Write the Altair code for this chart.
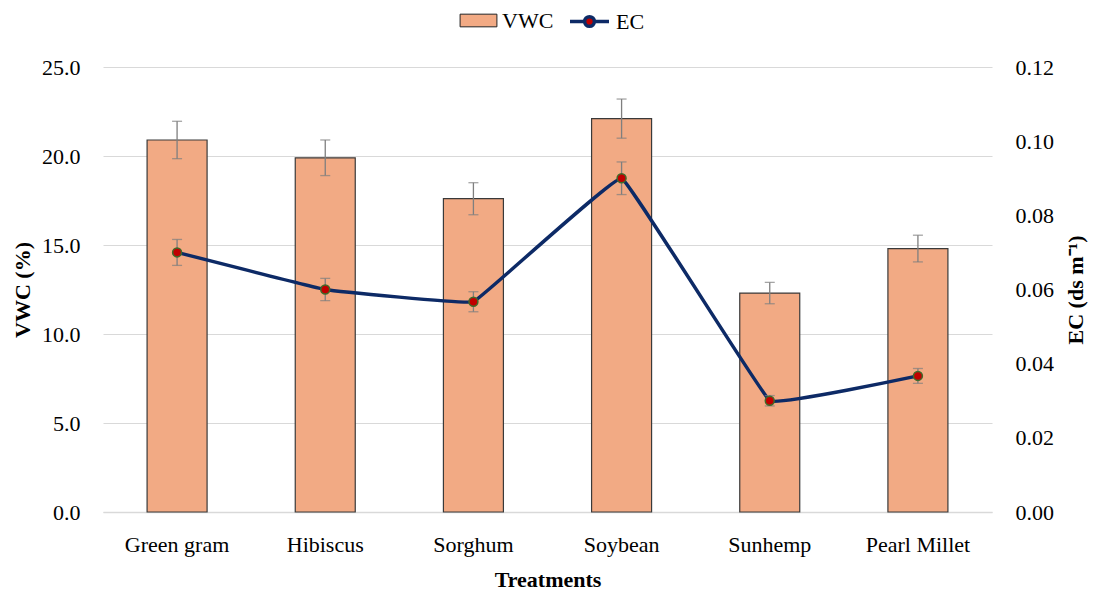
import altair as alt
import pandas as pd

treatments = ["Green gram", "Hibiscus", "Sorghum", "Soybean", "Sunhemp", "Pearl Millet"]
vwc = [20.9, 19.9, 17.6, 22.1, 12.3, 14.8]
vwc_err = [1.05, 1.0, 0.9, 1.1, 0.6, 0.75]
ec = [0.070, 0.060, 0.0567, 0.090, 0.030, 0.0367]
ec_err = [0.0035, 0.003, 0.0027, 0.0044, 0.0014, 0.002]

df = pd.DataFrame({
    "Treatment": treatments,
    "VWC": vwc,
    "VWC_lo": [v - e for v, e in zip(vwc, vwc_err)],
    "VWC_hi": [v + e for v, e in zip(vwc, vwc_err)],
    "EC": ec,
    "EC_lo": [v - e for v, e in zip(ec, ec_err)],
    "EC_hi": [v + e for v, e in zip(ec, ec_err)],
    "s1": ["VWC"] * 6,
    "s2": ["EC"] * 6,
})

FONT = "Liberation Serif, Times New Roman, serif"
FS = 22
H = 445

x = alt.X("Treatment:N", sort=treatments,
          scale=alt.Scale(paddingInner=0, paddingOuter=0),
          axis=alt.Axis(title="Treatments", labelAngle=0, labelFontSize=FS,
                        titleFontSize=FS, titleFontWeight="bold", labelPadding=22,
                        titlePadding=14, ticks=False, domain=True, domainColor="#D9D9D9",
                        domainWidth=1.5, labelColor="#000", titleColor="#000"))
xs = alt.X("Treatment:N", sort=treatments)

left_axis = alt.Axis(title="VWC (%)", values=[0, 5, 10, 15, 20, 25], format=".1f",
                     labelFontSize=FS, titleFontSize=FS, titleFontWeight="bold",
                     grid=True, gridColor="#D9D9D9", gridWidth=1.2, ticks=False,
                     domain=False, labelPadding=23,
                     titleAngle=270, titleX=-81, titleY=H / 2, titleAlign="center",
                     titleBaseline="middle",
                     labelColor="#000", titleColor="#000")
left_scale = alt.Scale(domain=[0, 25], nice=False)

fill_scale = alt.Scale(domain=["VWC"], range=["#F2AA84"])
bars = alt.Chart(df).mark_bar(size=60, stroke="#3A3A3A", strokeWidth=1.2).encode(
    x=x, y=alt.Y("VWC:Q", scale=left_scale, axis=left_axis),
    fill=alt.Fill("s1:N", scale=fill_scale,
                  legend=alt.Legend(title=None, orient="none", legendX=363, legendY=-59,
                                    symbolType="M-1.6,-0.55H1.6V0.55H-1.6Z", symbolSize=530,
                                    symbolStrokeColor="#222", symbolStrokeWidth=1,
                                    labelFontSize=FS, labelFont=FONT, labelColor="#000",
                                    labelOffset=11)),
)
bar_err = alt.Chart(df).mark_rule(color="#7F7F7F", strokeWidth=1.3).encode(
    x=xs, y=alt.Y("VWC_lo:Q", scale=left_scale, axis=left_axis), y2="VWC_hi:Q")
bar_cap_hi = alt.Chart(df).mark_tick(color="#7F7F7F", thickness=1.3, size=10, orient="horizontal").encode(
    x=xs, y=alt.Y("VWC_hi:Q", scale=left_scale, axis=left_axis))
bar_cap_lo = alt.Chart(df).mark_tick(color="#7F7F7F", thickness=1.3, size=10, orient="horizontal").encode(
    x=xs, y=alt.Y("VWC_lo:Q", scale=left_scale, axis=left_axis))

left = alt.layer(bars, bar_err, bar_cap_hi, bar_cap_lo)

right_axis = alt.Axis(title="EC (ds m⁻¹)", orient="right",
                      values=[0, 0.02, 0.04, 0.06, 0.08, 0.10, 0.12], format=".2f",
                      labelFontSize=FS, titleFontSize=FS, titleFontWeight="bold",
                      grid=False, ticks=False, domain=False, labelPadding=23,
                      titleAngle=270, titleX=83, titleY=H / 2, titleAlign="center",
                      titleBaseline="middle",
                      labelColor="#000", titleColor="#000")
right_scale = alt.Scale(domain=[0, 0.12], nice=False)

stroke_scale = alt.Scale(domain=["EC"], range=["#0D2A66"])
line = alt.Chart(df).mark_line(strokeWidth=3.5, interpolate="cardinal", tension=0.85).encode(
    x=xs, y=alt.Y("EC:Q", scale=right_scale, axis=right_axis),
    stroke=alt.Stroke("s2:N", scale=stroke_scale,
                      legend=alt.Legend(title=None, orient="none", legendX=465, legendY=-67,
                                        symbolType="M-1,0H-0.25M0.25,0H1M0.25,0A0.25,0.25 0 1 1 -0.25,0A0.25,0.25 0 1 1 0.25,0Z",
                                        symbolSize=1520, symbolStrokeWidth=3.5,
                                        symbolFillColor="#C00000",
                                        labelFontSize=FS, labelFont=FONT, labelColor="#000",
                                        labelOffset=5)),
)
ec_err_rule = alt.Chart(df).mark_rule(color="#7F7F7F", strokeWidth=1.3).encode(
    x=xs, y=alt.Y("EC_lo:Q", scale=right_scale, axis=right_axis), y2="EC_hi:Q")
ec_cap_hi = alt.Chart(df).mark_tick(color="#7F7F7F", thickness=1.3, size=10, orient="horizontal").encode(
    x=xs, y=alt.Y("EC_hi:Q", scale=right_scale, axis=right_axis))
ec_cap_lo = alt.Chart(df).mark_tick(color="#7F7F7F", thickness=1.3, size=10, orient="horizontal").encode(
    x=xs, y=alt.Y("EC_lo:Q", scale=right_scale, axis=right_axis))
pts = alt.Chart(df).mark_point(filled=True, size=80, fill="#C00000", stroke="#3F6B2A",
                               strokeWidth=1.5, opacity=1).encode(
    x=xs, y=alt.Y("EC:Q", scale=right_scale, axis=right_axis))

right = alt.layer(line, ec_err_rule, ec_cap_hi, ec_cap_lo, pts)

chart = alt.layer(left, right).resolve_scale(y="independent", fill="independent", stroke="independent").properties(
    width=889, height=H,
    autosize=alt.AutoSizeParams(type="none"),
    padding={"left": 95, "top": 59, "right": 96, "bottom": 78},
).configure(font=FONT).configure_view(stroke=None).configure_axis(
    labelFont=FONT, titleFont=FONT)

chart.save("out.html", embed_options={"renderer": "svg", "actions": False})
